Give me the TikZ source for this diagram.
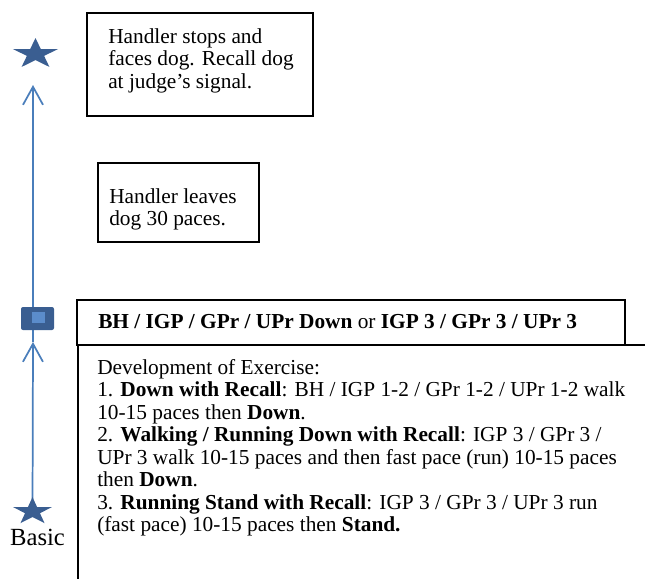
\documentclass[tikz,border=0pt]{standalone}
\usepackage{fontspec}
\setmainfont{Liberation Serif}
\usetikzlibrary{arrows.meta,fit}
\definecolor{starc}{HTML}{3A5E91}
\definecolor{linec}{HTML}{4A7EBB}
\definecolor{lightc}{HTML}{5B8CCB}
\begin{document}
\begin{tikzpicture}[x=0.75pt,y=-0.75pt,
  box/.style={draw=black,line width=1.4pt,inner sep=0pt},
  txt/.style={anchor=north west,inner sep=0pt,align=left,font=\fontsize{16}{16.875}\selectfont},
  flow/.style={draw=linec,line width=1.3pt},
  arr/.style={flow,-{Straight Barb[length=13.5pt,width=15pt]}},
  starfill/.style={fill=starc}]
\useasboundingbox (0,0) rectangle (645,578);
\clip (0,0) rectangle (645,578);
% flow line
\coordinate (tipB) at (33,85);
\coordinate (tipA) at (33,342);
\coordinate (botc) at (32.5,511.5);
\coordinate (topc) at (35.5,54);
\draw[arr] (botc) -- (tipA);
\draw[arr] (tipA) -- (tipB);
% stars
\fill[starfill] (topc) +(270:23.7 and 16) -- +(306:9.05 and 6.11) -- +(342:23.7 and 16) -- +(18:9.05 and 6.11)
  -- +(54:23.7 and 16) -- +(90:9.05 and 6.11) -- +(126:23.7 and 16) -- +(162:9.05 and 6.11)
  -- +(198:23.7 and 16) -- +(234:9.05 and 6.11) -- cycle;
\fill[starfill] (botc) +(270:20.5 and 14.4) -- +(306:7.83 and 5.5) -- +(342:20.5 and 14.4) -- +(18:7.83 and 5.5)
  -- +(54:20.5 and 14.4) -- +(90:7.83 and 5.5) -- +(126:20.5 and 14.4) -- +(162:7.83 and 5.5)
  -- +(198:20.5 and 14.4) -- +(234:7.83 and 5.5) -- cycle;
% blob
\node[fill=starc, rounded corners=1.5pt, minimum width=24.75pt, minimum height=17.25pt, inner sep=0pt] (blob) at (37.5,318.5) {};
\node[fill=lightc, minimum width=9.75pt, minimum height=8.25pt, inner sep=0pt] (blobin) at (38.5,317.5) {};
% boxes
\node[box, fit={(87,13) (313,116)}] (b1) {};
\node[box, fit={(98,163) (259,242)}] (b2) {};
\node[box, fit={(77,300) (625,345)}] (hdr) {};
\node[box, fit={(78,345) (720,640)}] (dev) {};
% texts
\node[txt] (t1) at (108,27) {\rule{0pt}{12pt}Handler stops and\\faces dog. Recall dog\\at judge’s signal.};
\node[txt] (t2) at (109,187) {\rule{0pt}{12pt}Handler leaves\\dog 30 paces.};
\node[txt] (t3) at (98,312) {\rule{0pt}{12pt}\textbf{BH / IGP / GPr / UPr Down} or \textbf{IGP 3 / GPr 3 / UPr 3}};
\node[txt] (t4) at (97,358) {\rule{0pt}{12pt}Development of Exercise:\\
1. \textbf{Down with Recall}: BH / IGP 1-2 / GPr 1-2 / UPr 1-2 walk\\
10-15 paces then \textbf{Down}.\\
2. \textbf{Walking / Running Down with Recall}: IGP 3 / GPr 3 /\\
UPr 3 walk 10-15 paces and then fast pace (run) 10-15 paces\\
then \textbf{Down}.\\
3. \textbf{Running Stand with Recall}: IGP 3 / GPr 3 / UPr 3 run\\
(fast pace) 10-15 paces then \textbf{Stand.}};
\node[anchor=base, inner sep=0pt, font=\fontsize{18.5}{21}\selectfont] (basic) at (37.5,545) {Basic};
\end{tikzpicture}
\end{document}
